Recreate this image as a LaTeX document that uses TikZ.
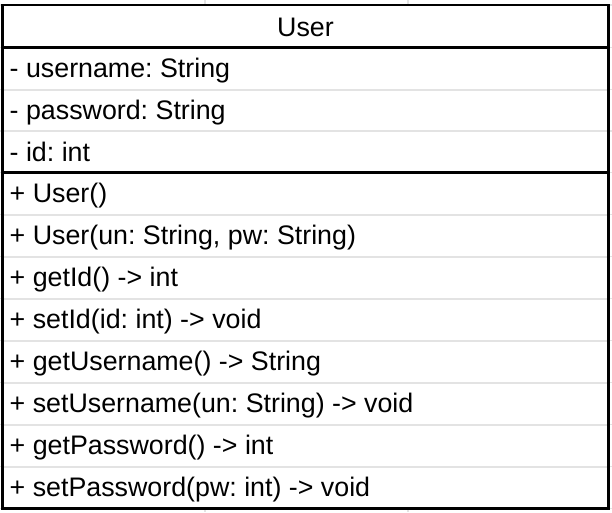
\documentclass[tikz,border=0pt]{standalone}
\usepackage{fontspec}
\setmainfont{Liberation Sans}
\frenchspacing
\begin{document}
\begin{tikzpicture}[x=1pt,y=-1pt,
  gridline/.style={draw=gray!22,line width=1.6pt},
  rowsep/.style={draw=gray!22,line width=2pt},
  sectionsep/.style={draw=black,line width=2.2pt},
  frame/.style={draw=black,line width=2.6pt},
  classname/.style={anchor=base,inner sep=0pt,font=\fontsize{26.8}{30}\selectfont},
  member/.style={anchor=base west,inner sep=0pt,font=\fontsize{26.8}{30}\selectfont}]
\useasboundingbox (0,0) rectangle (612,512);

% sheet grid behind the class box
\foreach \gy in {5,47.5,89.5,131,172.5,214.5,256.5,298.5,340.5,382.5,424.5,466.5,508.5}
  \draw[gridline] (0,\gy) -- (612,\gy);
\foreach \gx in {205,408}
  \draw[gridline] (\gx,0) -- (\gx,512);

% class box
\fill[white] (2.5,5) rectangle (608.5,508.5);

% light separators between members
\foreach \gy in {89.5,131,214.5,256.5,298.5,340.5,382.5,424.5,466.5}
  \draw[rowsep] (2.5,\gy) -- (608.5,\gy);

% compartment separators and outline
\draw[sectionsep] (2.5,47.5) -- (608.5,47.5);
\draw[sectionsep] (2.5,172.5) -- (608.5,172.5);
\draw[frame] (2.5,5) rectangle (608.5,508.5);

% class name
\node[classname] (name) at (305.5,36.5) {User};

% attributes
\node[member] (a1) at (9.5,77) {- username: String};
\node[member] (a2) at (9.5,119) {- password: String};
\node[member] (a3) at (9.5,161) {- id: int};

% operations
\node[member] (m1) at (9.5,202) {+ User()};
\node[member] (m2) at (9.5,244) {+ User(un: String, pw: String)};
\node[member] (m3) at (9.5,286) {+ getId() -> int};
\node[member] (m4) at (9.5,328) {+ setId(id: int) -> void};
\node[member] (m5) at (9.5,370) {+ getUsername() -> String};
\node[member] (m6) at (9.5,412) {+ setUsername(un: String) -> void};
\node[member] (m7) at (9.5,454) {+ getPassword() -> int};
\node[member] (m8) at (9.5,496) {+ setPassword(pw: int) -> void};
\end{tikzpicture}
\end{document}
